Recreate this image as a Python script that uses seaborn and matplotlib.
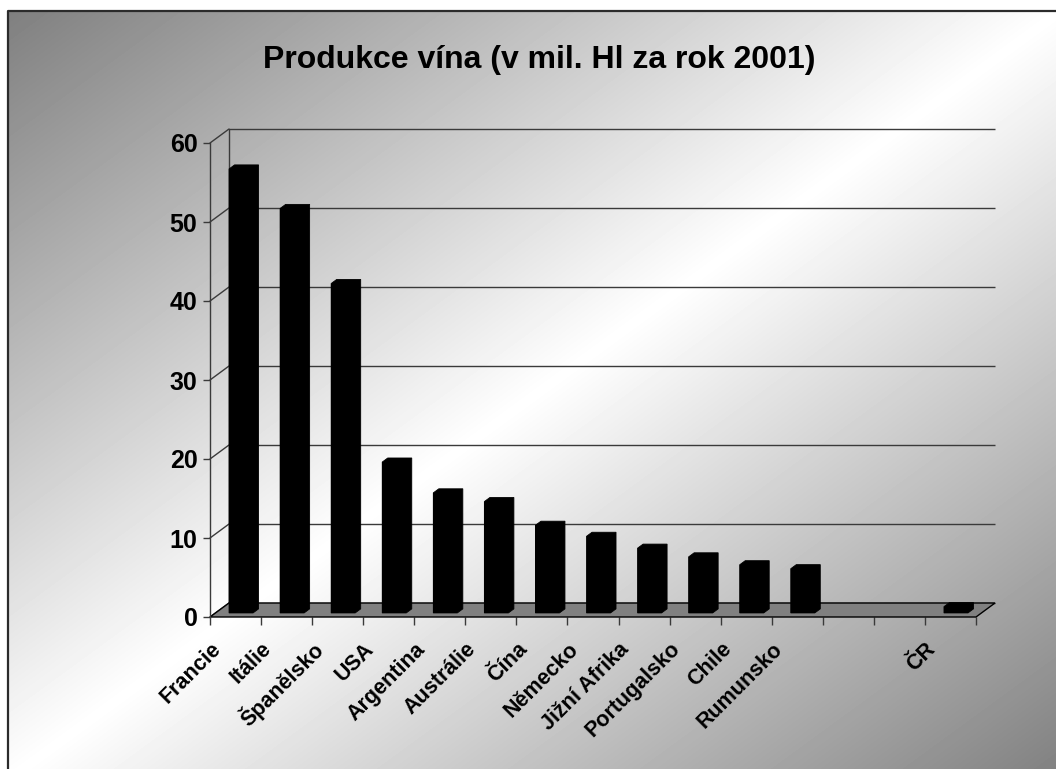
import numpy as np
import pandas as pd
import matplotlib
matplotlib.use("Agg")
import matplotlib.pyplot as plt
import matplotlib.transforms as mtransforms
from matplotlib.patches import Polygon
import seaborn as sns

# ---------------- data ----------------
title = "Produkce vína (v mil. Hl za rok 2001)"
countries = ["Francie", "Itálie", "Španělsko", "USA", "Argentina", "Austrálie",
             "Čína", "Německo", "Jižní Afrika", "Portugalsko", "Chile", "Rumunsko", "ČR"]
production = [56.2, 51.2, 41.7, 19.1, 15.2, 14.1, 11.1, 9.7, 8.2, 7.1, 6.1, 5.6, 0.8]
# category axis as in the original (two empty slots before ČR)
category_order = ["Francie", "Itálie", "Španělsko", "USA", "Argentina", "Austrálie",
                  "Čína", "Německo", "Jižní Afrika", "Portugalsko", "Chile", "Rumunsko",
                  "", " ", "ČR"]
y_ticks = [0, 10, 20, 30, 40, 50, 60]

# ---------------- style ----------------
sns.set_style("white")
plt.rcParams["font.family"] = ["Liberation Sans", "DejaVu Sans"]
plt.rcParams["font.weight"] = "bold"
for k in ["text.color", "axes.labelcolor", "xtick.color", "ytick.color"]:
    plt.rcParams[k] = "black"

W, H, DPI = 1056, 769, 100
fig = plt.figure(figsize=(W / DPI, H / DPI), dpi=DPI)
fig.patch.set_facecolor("white")

# background: diagonal gradient inside a frame
bg = fig.add_axes([0, 0, 1, 1], zorder=-10)
fx0, fy0 = 8, 11
xs = np.arange(W)
ys = np.arange(H)
u = (xs - fx0) / (W - fx0 + 4)
v = (ys - fy0) / (H - fy0 + 10)
s = u[None, :] + v[:, None]
val = 0.5 + 0.5 * (1 - np.abs(s - 1))
mask = (xs[None, :] < fx0) | (ys[:, None] < fy0)
val[mask] = 1.0
bg.imshow(val, cmap="gray", vmin=0, vmax=1, extent=(0, W, H, 0),
          aspect="auto", interpolation="bilinear")
bg.plot([fx0, fx0, W], [H, fy0, fy0], color="#2b2b2b", lw=1.6)
bg.set_xlim(0, W)
bg.set_ylim(H, 0)
bg.axis("off")

# ---------------- main axes (front plane) ----------------
ax_px = (210, 617, 766, 474)  # left, bottom(y from top), width, height in px
ax = fig.add_axes([ax_px[0] / W, (H - ax_px[1]) / H, ax_px[2] / W, ax_px[3] / H])
ax.patch.set_alpha(0)

df = pd.DataFrame({"Země": countries, "Produkce": production})
sns.barplot(data=df, x="Země", y="Produkce", order=category_order, color="black",
            width=0.47, saturation=1, linewidth=0, ax=ax, zorder=3)
bars = [p for p in ax.patches if np.isfinite(p.get_height()) and p.get_height() > 0]

n = len(category_order)
ax.set_xlim(-0.5, n - 0.5)
ax.set_ylim(y_ticks[0], y_ticks[-1])

# depth of 3-D floor in data units
DX = 19 / ax_px[2] * n
DY = 14 / ax_px[3] * (y_ticks[-1] - y_ticks[0])
f = 0.29

line_c = "#3a3a3a"
# back wall gridlines
ax.hlines([t + DY for t in y_ticks], -0.5 + DX, n - 0.5 + DX, color=line_c,
          lw=1, clip_on=False, zorder=0.5)
ax.plot([-0.5 + DX, -0.5 + DX], [DY, y_ticks[-1] + DY], color=line_c, lw=1,
        clip_on=False, zorder=0.5)
# left wall diagonals
for t in y_ticks:
    ax.plot([-0.5, -0.5 + DX], [t, t + DY], color=line_c, lw=1, clip_on=False, zorder=0.6)
# floor
floor = Polygon([(-0.5, 0), (n - 0.5, 0), (n - 0.5 + DX, DY), (-0.5 + DX, DY)],
                closed=True, facecolor="#808080", edgecolor="black", lw=1,
                clip_on=False, zorder=2)
ax.add_patch(floor)

# 3-D bars
for p in bars:
    x0 = p.get_x() + f * DX
    wdt = p.get_width()
    h = p.get_height()
    y0 = f * DY
    p.set_x(x0)
    p.set_y(y0)
    dx, dy = f * DX, f * DY
    poly = Polygon([(x0, y0), (x0 + wdt, y0), (x0 + wdt + dx, y0 + dy),
                    (x0 + wdt + dx, y0 + h + dy), (x0 + dx, y0 + h + dy), (x0, y0 + h)],
                   closed=True, facecolor="black", edgecolor="black", lw=0.6,
                   clip_on=False, zorder=3)
    ax.add_patch(poly)

# axes decorations
for side in ["top", "right", "bottom"]:
    ax.spines[side].set_visible(False)
ax.spines["left"].set_color(line_c)
ax.spines["left"].set_linewidth(1)
ax.set_yticks(y_ticks)
ax.set_xticks(np.arange(-0.5, n, 1.0))
ax.tick_params(axis="y", left=True, labelsize=18, pad=4, length=5, width=1,
               color=line_c, labelcolor="black", direction="out")
ax.tick_params(axis="x", bottom=True, labelbottom=False, length=6, width=1,
               color=line_c, direction="out")
ax.set_xlabel("")
ax.set_ylabel("")

# category labels
offset = mtransforms.ScaledTranslation(-18 / DPI, -29 / DPI, fig.dpi_scale_trans)
for i, name in enumerate(category_order):
    if name.strip():
        ax.text(i, 0, name, transform=ax.transData + offset, rotation=45,
                rotation_mode="anchor", ha="right", va="center", color="black",
                fontsize=15.5, fontweight="bold", clip_on=False)

fig.text(539 / W, 1 - 60 / H, title, ha="center", va="center", color="black",
         fontsize=23, fontweight="bold")

fig.savefig("out.png", dpi=DPI)
